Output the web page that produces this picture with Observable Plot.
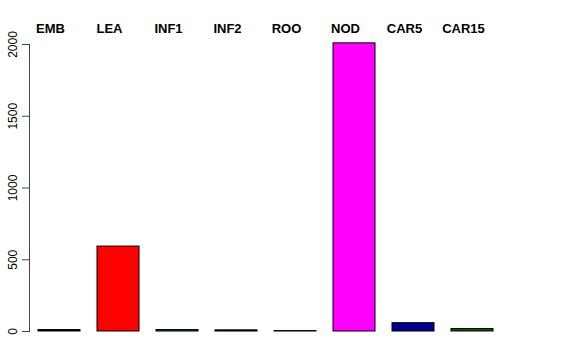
<!DOCTYPE html>
<html>
<head>
<meta charset="utf-8">
<script src="https://cdn.jsdelivr.net/npm/d3@7"></script>
<script src="https://cdn.jsdelivr.net/npm/@observablehq/plot@0.6"></script>
<style>
  html, body { margin: 0; padding: 0; background: #fff; }
  #chart { width: 576px; height: 360px; }
</style>
</head>
<body>
<div id="chart"></div>
<script>
const categories = ["EMB", "LEA", "INF1", "INF2", "ROO", "NOD", "CAR5", "CAR15"];
const values = [10, 592, 10, 8, 3, 2008, 58, 17];
const colors = ["#000000", "#FF0000", "#006400", "#00008B", "#000000", "#FF00FF", "#00008B", "#006400"];
const yTicks = [0, 500, 1000, 1500, 2000];

const data = categories.map((c, i) => ({cat: c, value: values[i], color: colors[i]}));

const chart = Plot.plot({
  width: 576,
  height: 360,
  marginLeft: 29,
  marginRight: 73,
  marginTop: 44,
  marginBottom: 29,
  style: {fontFamily: "Liberation Sans, Arial, sans-serif", background: "#fff"},
  x: {domain: categories, paddingInner: 0.288, paddingOuter: 0.153, axis: null},
  y: {domain: [0, 2000], label: null},
  marks: [
    Plot.barY(data, {x: "cat", y: "value", fill: "color", stroke: "#000", strokeWidth: 1}),
    Plot.frame({anchor: "left", stroke: "#444"}),
    Plot.axisY({ticks: yTicks, tickSize: 7, tickRotate: -90, tickPadding: 6, fontSize: 12, stroke: "#444", color: "#000", textAnchor: "middle", tickFormat: d => String(d), label: null}),
    Plot.text(data, {x: "cat", text: "cat", frameAnchor: "top", dy: -21, dx: -9, fontWeight: "bold", fontSize: 13, fill: "#000"})
  ]
});
document.getElementById("chart").appendChild(chart);
</script>
</body>
</html>
